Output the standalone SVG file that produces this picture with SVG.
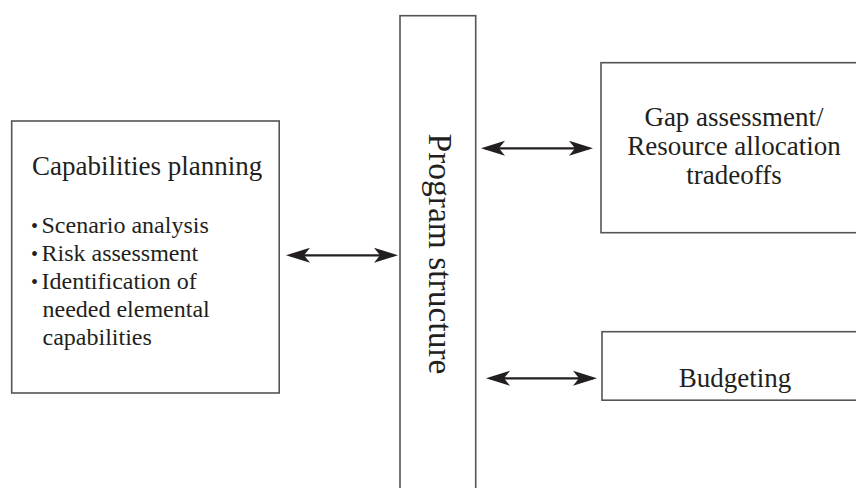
<svg xmlns="http://www.w3.org/2000/svg" width="856" height="488" viewBox="0 0 856 488">
  <defs>
    <style>
      .box { fill: #ffffff; stroke: #555555; stroke-width: 1.6; }
      .t { font-family: "Liberation Serif", "Times New Roman", serif; fill: #231f20; }
      .title { font-size: 27px; }
      .bul { font-size: 24px; }
      .dot { font-size: 20px; }
      .mid { text-anchor: middle; }
      .conn { stroke: #231f20; stroke-width: 2.2; fill: none; }
    </style>
    <marker id="ah" markerUnits="userSpaceOnUse" viewBox="-22 -9 27 18" refX="0" refY="0" markerWidth="27" markerHeight="18" orient="auto-start-reverse">
      <path d="M4,0 L-20,-7.5 L-14,0 L-20,7.5 Z" fill="#231f20"/>
    </marker>
  </defs>
  <rect width="856" height="488" fill="#ffffff"/>

  <g id="capabilities-planning">
    <rect class="box" x="11.7" y="121" width="267.5" height="272"/>
    <text class="t title" x="32" y="175">Capabilities planning</text>
    <text class="t bul" y="233"><tspan class="dot" x="31">•</tspan><tspan x="41.5">Scenario analysis</tspan></text>
    <text class="t bul" y="261"><tspan class="dot" x="31">•</tspan><tspan x="41.5">Risk assessment</tspan></text>
    <text class="t bul" y="289"><tspan class="dot" x="31">•</tspan><tspan x="41.5">Identification of</tspan></text>
    <text class="t bul" x="42.5" y="317">needed elemental</text>
    <text class="t bul" x="42.5" y="345">capabilities</text>
  </g>

  <g id="program-structure">
    <rect class="box" x="400" y="15.7" width="75.7" height="490"/>
    <text class="t mid" font-size="33.5" transform="translate(429,254) rotate(90)" x="0" y="0">Program structure</text>
  </g>

  <g id="gap-assessment">
    <rect class="box" x="601" y="62.7" width="268" height="170"/>
    <text class="t title mid" x="734" y="126">Gap assessment/</text>
    <text class="t title mid" x="734" y="155">Resource allocation</text>
    <text class="t title mid" x="734" y="184">tradeoffs</text>
  </g>

  <g id="budgeting">
    <rect class="box" x="602" y="331.7" width="268" height="68.5"/>
    <text class="t title mid" x="735" y="386.5">Budgeting</text>
  </g>

  <g id="connectors">
    <line class="conn" x1="290" y1="255.3" x2="394" y2="255.3" marker-start="url(#ah)" marker-end="url(#ah)"/>
    <line class="conn" x1="485" y1="148.3" x2="589" y2="148.3" marker-start="url(#ah)" marker-end="url(#ah)"/>
    <line class="conn" x1="490" y1="378.3" x2="593" y2="378.3" marker-start="url(#ah)" marker-end="url(#ah)"/>
  </g>
</svg>
